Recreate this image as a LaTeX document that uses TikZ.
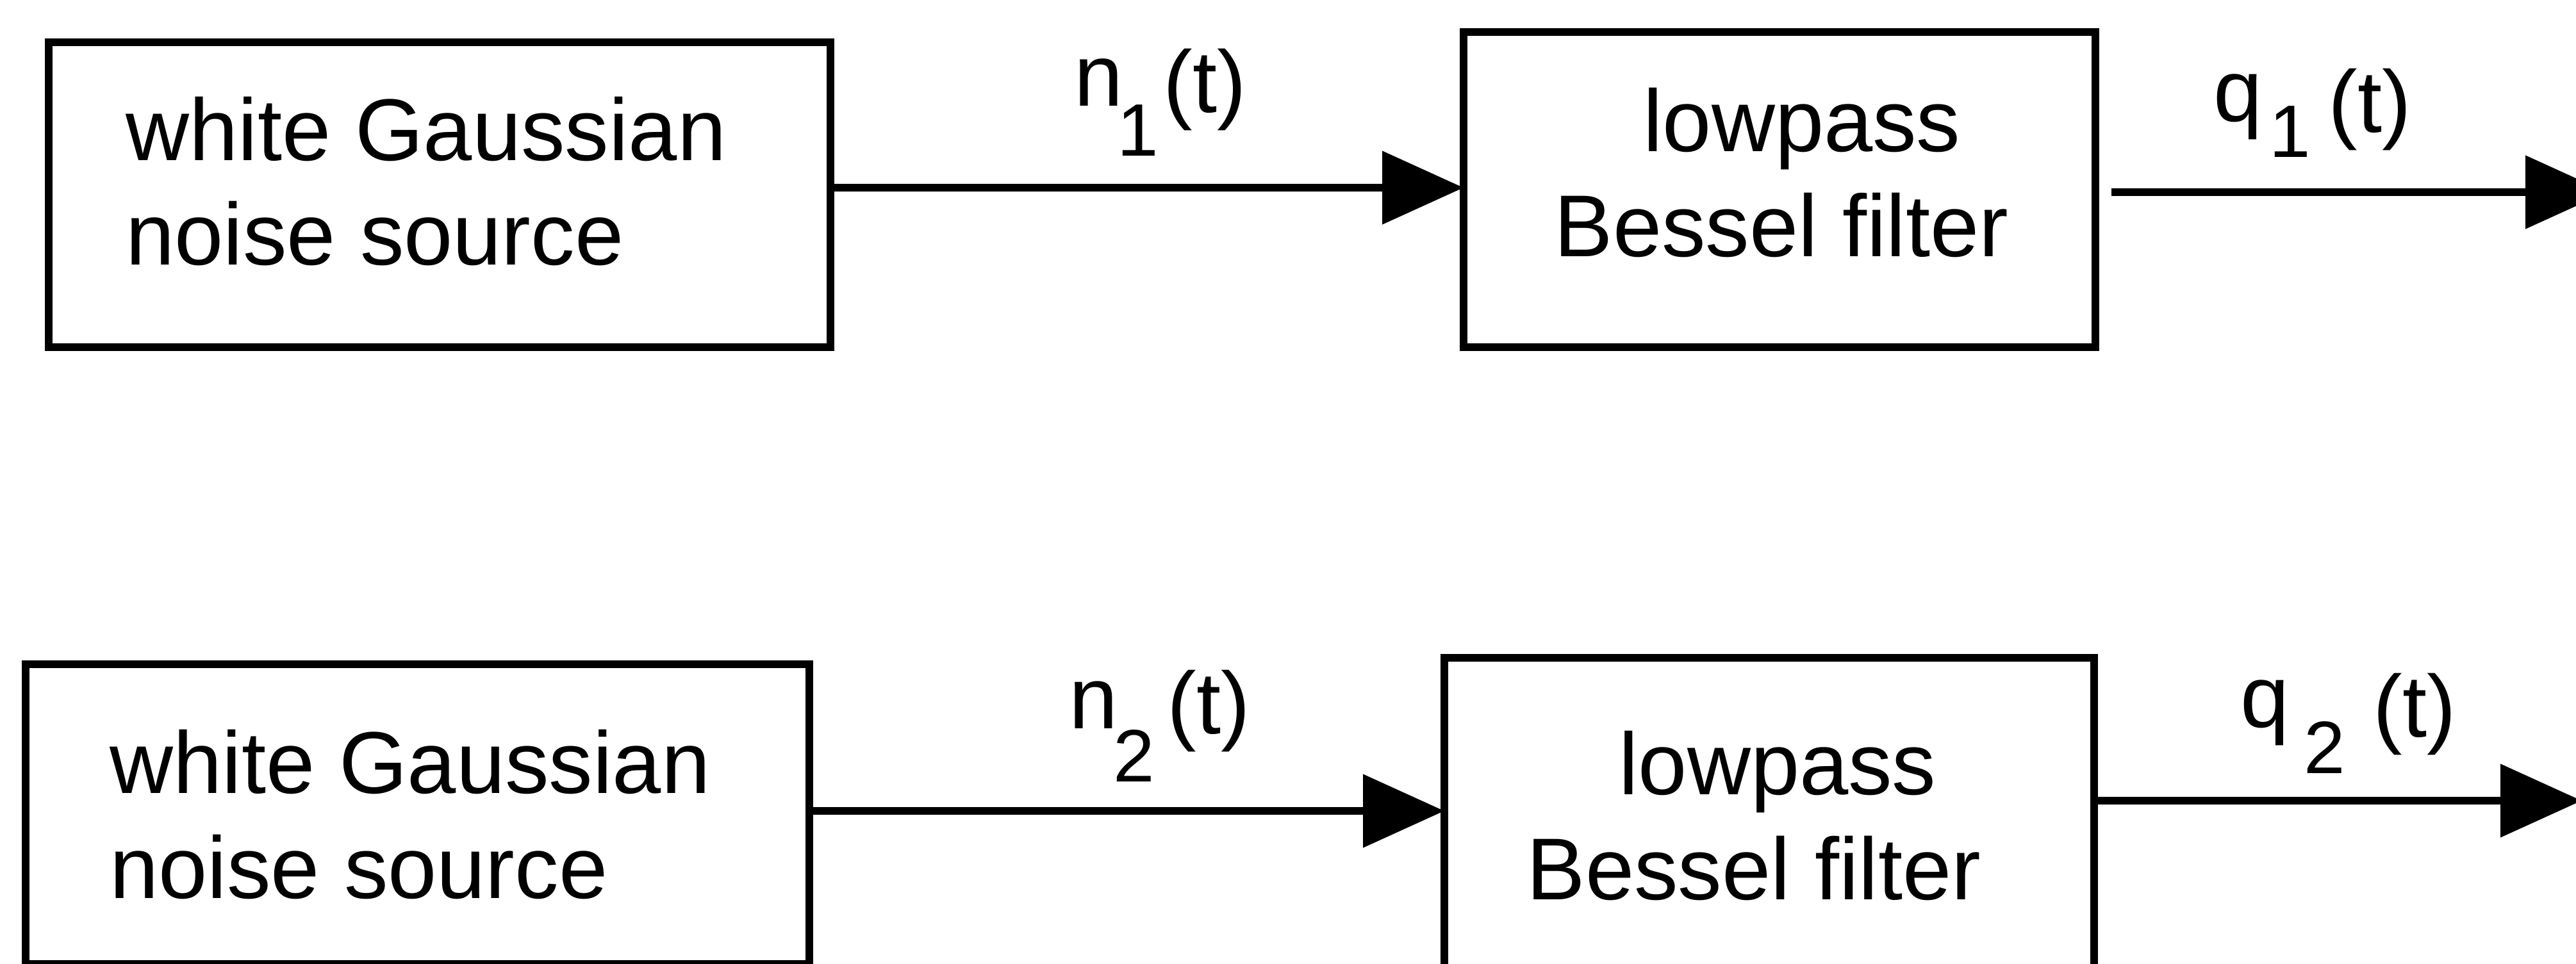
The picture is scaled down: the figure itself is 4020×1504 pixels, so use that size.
\documentclass[tikz,border=0pt]{standalone}
\usepackage{fontspec}
\setmainfont{Liberation Sans}
\usetikzlibrary{arrows.meta}
\newcommand{\siglbl}[6]{#1\kern#2\raisebox{-#3}{\fontsize{33}{33}\selectfont #4}\kern#5\raisebox{-#6}{(t)}}
\begin{document}
\begin{tikzpicture}[x=0.1mm,y=-0.1mm,
  blockbox/.style={draw=black, line width=1.2mm, inner sep=0pt, outer sep=0pt},
  txt/.style={inner sep=0pt, font=\fontsize{39}{46.5}\selectfont},
  lbl/.style={anchor=base west, inner sep=0pt, font=\fontsize{39}{39}\selectfont},
  arr/.style={line width=1.2mm, -{Triangle[length=12.7mm,width=11.2mm]}}]
\useasboundingbox (0,0) rectangle (4020,1504);
\clip (0,0) rectangle (4020,1504);
\fill[white] (0,0) rectangle (4020,1504);

% boxes
\node[blockbox, minimum width=122mm, minimum height=47.6mm] (A1) at (686,304) {};
\node[blockbox, minimum width=98.6mm, minimum height=49.2mm] (B1) at (2777,296) {};
\node[blockbox, minimum width=122.3mm, minimum height=46.8mm] (A2) at (651.5,1271) {};
\node[blockbox, minimum width=101.4mm, minimum height=49.3mm] (B2) at (2761,1273.5) {};

% box texts
\node[txt, align=left] (A1t) at (665,283) {white Gaussian\\noise source};
\node[txt, align=center] (B1t) at (2780,269.5) {\hspace*{6.4mm}lowpass\\Bessel filter};
\node[txt, align=left] (A2t) at (640,1271.5) {white Gaussian\\noise source};
\node[txt, align=center] (B2t) at (2737,1273.5) {\hspace*{7.4mm}lowpass\\Bessel filter};

% connectors
\coordinate (y1) at (0,293);
\coordinate (y2) at (0,1266);
\coordinate (o1) at (4068,300);
\coordinate (o2) at (4029,1250);
\draw[arr] (A1.east |- y1) -- (B1.west |- y1);
\draw[arr] (A2.east |- y2) -- (B2.west |- y2);
\draw[arr] (B1.east |- o1) ++(25,0) -- (o1);
\draw[arr] (B2.east |- o2) -- (o2);

% signal labels
\node[lbl] (L1) at (1676,165) {\siglbl{n}{-0.9mm}{7.8mm}{1}{0.7mm}{1.0mm}};
\node[lbl] (L2) at (3454,189) {\siglbl{q}{1.1mm}{5.6mm}{1}{2.7mm}{1.7mm}};
\node[lbl] (L3) at (1668,1137) {\siglbl{n}{-0.7mm}{8.3mm}{2}{1.9mm}{0.8mm}};
\node[lbl] (L4) at (3496,1135) {\siglbl{q}{2.3mm}{7.2mm}{2}{4.3mm}{1.5mm}};
\end{tikzpicture}
\end{document}
